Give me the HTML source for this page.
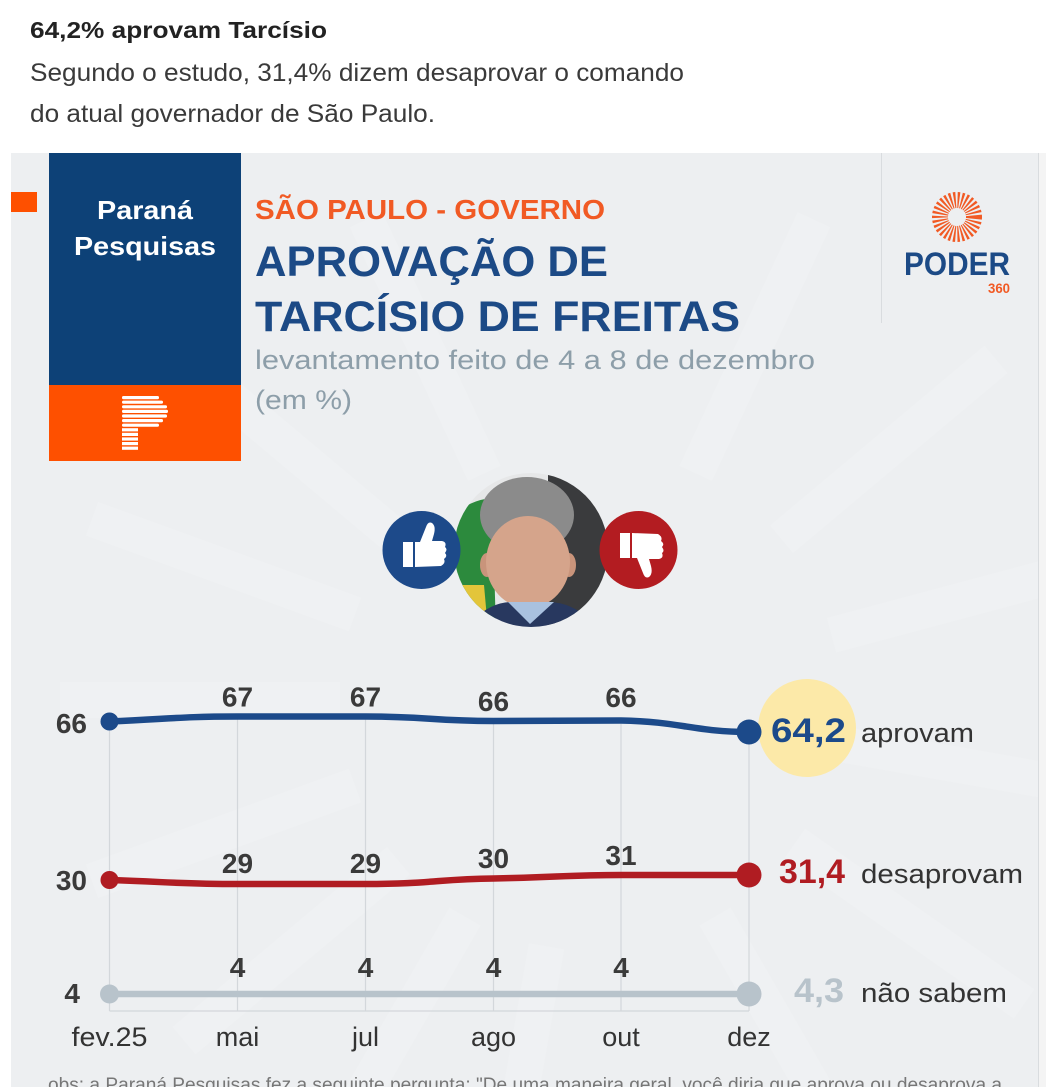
<!DOCTYPE html>
<html><head><meta charset="utf-8">
<style>
html,body{margin:0;padding:0;background:#fff;width:1046px;height:1087px;overflow:hidden;}
svg{display:block;}
text{font-family:"Liberation Sans",sans-serif;}
</style></head><body>
<svg width="1046" height="1087" viewBox="0 0 1046 1087" xmlns="http://www.w3.org/2000/svg">
<defs>
<clipPath id="pc"><circle cx="531" cy="550" r="77"/></clipPath>
<clipPath id="panel"><rect x="11" y="153" width="1027" height="934"/></clipPath>
</defs>
<rect width="1046" height="1087" fill="#fff"/>
<!-- header -->
<text x="30" y="38" font-size="23" font-weight="bold" fill="#222" textLength="297" lengthAdjust="spacingAndGlyphs">64,2% aprovam Tarcísio</text>
<text x="30" y="81" font-size="25" fill="#3a3a3a" textLength="654" lengthAdjust="spacingAndGlyphs">Segundo o estudo, 31,4% dizem desaprovar o comando</text>
<text x="30" y="122" font-size="25" fill="#3a3a3a" textLength="405" lengthAdjust="spacingAndGlyphs">do atual governador de São Paulo.</text>

<!-- panel -->
<rect x="11" y="153" width="1027" height="934" fill="#edeff1"/>
<rect x="1038" y="153" width="8" height="934" fill="#f4f4f4"/>
<line x1="1038.5" y1="153" x2="1038.5" y2="1087" stroke="#d9dcdf" stroke-width="1"/>

<!-- faint rays watermark -->
<g clip-path="url(#panel)" fill="#ffffff" opacity="0.14">
<g transform="translate(590,700)">
<rect x="250" y="-18" width="280" height="36" transform="rotate(200)"/>
<rect x="250" y="-18" width="280" height="36" transform="rotate(180)"/>
<rect x="250" y="-18" width="280" height="36" transform="rotate(220)"/>
<rect x="250" y="-18" width="280" height="36" transform="rotate(245)"/>
<rect x="250" y="-18" width="280" height="36" transform="rotate(160)"/>
<rect x="250" y="-18" width="280" height="36" transform="rotate(140)"/>
<rect x="250" y="-18" width="280" height="36" transform="rotate(120)"/>
<rect x="250" y="-18" width="280" height="36" transform="rotate(100)"/>
<rect x="250" y="-18" width="280" height="36" transform="rotate(60)"/>
<rect x="250" y="-18" width="280" height="36" transform="rotate(35)"/>
<rect x="250" y="-18" width="280" height="36" transform="rotate(10)"/>
<rect x="250" y="-18" width="280" height="36" transform="rotate(-15)"/>
<rect x="250" y="-18" width="280" height="36" transform="rotate(-40)"/>
<rect x="250" y="-18" width="280" height="36" transform="rotate(-65)"/>
</g>
</g>

<!-- orange small square -->
<rect x="11" y="192" width="26" height="20" fill="#fe5000"/>

<!-- Parana box -->
<rect x="49" y="153" width="192" height="232" fill="#0d4177"/>
<rect x="49" y="385" width="192" height="76" fill="#fe5000"/>
<text x="145" y="219" font-size="26" font-weight="bold" fill="#fff" text-anchor="middle" textLength="96" lengthAdjust="spacingAndGlyphs">Paraná</text>
<text x="145" y="255" font-size="26" font-weight="bold" fill="#fff" text-anchor="middle" textLength="142" lengthAdjust="spacingAndGlyphs">Pesquisas</text>
<g fill="#fff">
<rect x="122" y="396" width="37" height="3.2" rx="1.5"/>
<rect x="122" y="400.6" width="41" height="3.2" rx="1.5"/>
<rect x="122" y="405.2" width="45" height="3.2" rx="1.5"/>
<rect x="122" y="409.8" width="46" height="3.2" rx="1.5"/>
<rect x="122" y="414.4" width="45" height="3.2" rx="1.5"/>
<rect x="122" y="419" width="41" height="3.2" rx="1.5"/>
<rect x="122" y="423.6" width="37" height="3.2" rx="1.5"/>
<rect x="122" y="428.2" width="16" height="3.2"/>
<rect x="122" y="432.8" width="16" height="3.2"/>
<rect x="122" y="437.4" width="16" height="3.2"/>
<rect x="122" y="442" width="16" height="3.2"/>
<rect x="122" y="446.6" width="16" height="3.2"/>
</g>

<!-- titles -->
<text x="255" y="219" font-size="28" font-weight="bold" fill="#f15a24" textLength="350" lengthAdjust="spacingAndGlyphs">SÃO PAULO - GOVERNO</text>
<text x="255" y="276" font-size="43" font-weight="bold" fill="#1c4a86" textLength="353" lengthAdjust="spacingAndGlyphs">APROVAÇÃO DE</text>
<text x="255" y="331" font-size="43" font-weight="bold" fill="#1c4a86" textLength="485" lengthAdjust="spacingAndGlyphs">TARCÍSIO DE FREITAS</text>
<text x="255" y="369" font-size="27" fill="#8d9ea9" textLength="560" lengthAdjust="spacingAndGlyphs">levantamento feito de 4 a 8 de dezembro</text>
<text x="255" y="409" font-size="27" fill="#8d9ea9" textLength="97" lengthAdjust="spacingAndGlyphs">(em %)</text>

<!-- Poder logo -->
<line x1="881.5" y1="153" x2="881.5" y2="323" stroke="#d9dcdf" stroke-width="1"/>
<circle cx="957" cy="217" r="17" fill="none" stroke="#f15a24" stroke-width="16" stroke-dasharray="1.8 1.7"/>
<text x="904" y="275" font-size="32" font-weight="bold" fill="#1c4a86" textLength="106" lengthAdjust="spacingAndGlyphs">PODER</text>
<text x="988" y="293" font-size="14" font-weight="bold" fill="#f15a24" textLength="22" lengthAdjust="spacingAndGlyphs">360</text>

<!-- photo -->
<g clip-path="url(#pc)">
<rect x="450" y="470" width="165" height="160" fill="#e6e7e8"/>
<rect x="548" y="470" width="70" height="160" fill="#3a3b3d"/>
<path d="M454,515 Q470,500 492,498 L496,630 L456,630 Z" fill="#2c8a3d"/>
<path d="M456,585 L484,585 L488,630 L458,630 Z" fill="#e3c53a"/>
<ellipse cx="527" cy="515" rx="47" ry="38" fill="#8b8b8b"/>
<ellipse cx="487" cy="565" rx="7" ry="12" fill="#c9947b"/>
<ellipse cx="569" cy="565" rx="7" ry="12" fill="#c9947b"/>
<ellipse cx="528" cy="562" rx="42" ry="46" fill="#d5a48b"/>
<path d="M462,632 Q485,603 510,602 L550,602 Q578,603 602,632 Z" fill="#28385f"/>
<path d="M508,602 L530,624 L554,602 Z" fill="#a9c1df"/>
</g>

<!-- thumbs -->
<circle cx="421.5" cy="550" r="39" fill="#1d4a8a"/>
<circle cx="638.5" cy="550" r="39" fill="#b31c21"/>
<g fill="#fff">
<rect x="403" y="542" width="10" height="25"/>
<path d="M415,542 L420,542 L426,527 Q428,521 432,523 Q436,526 434,534 L432,541 L442,541 Q447,542 445,547 Q448,549 445,553 Q448,556 444,559 Q446,563 441,566 L415,567 Z"/>
</g>
<g fill="#fff" transform="translate(217,1100) scale(1,-1)">
<rect x="403" y="542" width="10" height="25"/>
<path d="M415,542 L420,542 L426,527 Q428,521 432,523 Q436,526 434,534 L432,541 L442,541 Q447,542 445,547 Q448,549 445,553 Q448,556 444,559 Q446,563 441,566 L415,567 Z"/>
</g>

<!-- chart grid -->
<g stroke="#d3d7db" stroke-width="1.2">
<line x1="109.5" y1="722" x2="109.5" y2="1011"/>
<line x1="237.5" y1="717" x2="237.5" y2="1011"/>
<line x1="365.5" y1="717" x2="365.5" y2="1011"/>
<line x1="493.5" y1="721" x2="493.5" y2="1011"/>
<line x1="621" y1="721" x2="621" y2="1011"/>
<line x1="749" y1="732" x2="749" y2="1011"/>
<line x1="109.5" y1="1011" x2="749" y2="1011"/>
</g>

<!-- yellow highlight -->
<circle cx="807" cy="728" r="49" fill="#fce9a8"/>

<!-- series -->
<path d="M109.5,721.5 C170,719 180,716.5 237.5,716.5 L365.5,716.5 C430,716.5 430,721 493.5,721 L621,720.5 C680,721.5 695,732 749,732" fill="none" stroke="#1c4a8a" stroke-width="6.5" stroke-linecap="round"/>
<path d="M109.5,880 C170,882 180,884 237.5,884 L365.5,884 C430,884 440,879 493.5,878.5 C560,877 570,875 621,875 L749,875" fill="none" stroke="#b01c22" stroke-width="6.5" stroke-linecap="round"/>
<path d="M109.5,994 L749,994" fill="none" stroke="#b8c3cb" stroke-width="6.5" stroke-linecap="round"/>
<circle cx="109.5" cy="721.5" r="9" fill="#1c4a8a"/>
<circle cx="749" cy="732" r="12.5" fill="#1c4a8a"/>
<circle cx="109.5" cy="880" r="9" fill="#b01c22"/>
<circle cx="749" cy="875" r="12.5" fill="#b01c22"/>
<circle cx="109.5" cy="994" r="9.5" fill="#b8c3cb"/>
<circle cx="749" cy="994" r="12.5" fill="#b8c3cb"/>

<!-- point labels -->
<g font-size="28" font-weight="bold" fill="#3a3a3a" text-anchor="middle">
<text x="87" y="733" text-anchor="end">66</text>
<text x="237.5" y="706.5">67</text>
<text x="365.5" y="706.5">67</text>
<text x="493.5" y="711">66</text>
<text x="621" y="707">66</text>
<text x="87" y="890" text-anchor="end">30</text>
<text x="237.5" y="873">29</text>
<text x="365.5" y="873">29</text>
<text x="493.5" y="868">30</text>
<text x="621" y="865">31</text>
<text x="80" y="1003" text-anchor="end">4</text>
<text x="237.5" y="977">4</text>
<text x="365.5" y="977">4</text>
<text x="493.5" y="977">4</text>
<text x="621" y="977">4</text>
</g>

<!-- x labels -->
<g font-size="27" fill="#333" text-anchor="middle">
<text x="109.5" y="1046" textLength="76" lengthAdjust="spacingAndGlyphs">fev.25</text>
<text x="237.5" y="1046">mai</text>
<text x="365.5" y="1046">jul</text>
<text x="493.5" y="1046">ago</text>
<text x="621" y="1046">out</text>
<text x="749" y="1046">dez</text>
</g>

<!-- end labels -->
<text x="771" y="742" font-size="34" font-weight="bold" fill="#1c4a8a" textLength="75" lengthAdjust="spacingAndGlyphs">64,2</text>
<text x="861" y="742" font-size="27" fill="#333" textLength="113" lengthAdjust="spacingAndGlyphs">aprovam</text>
<text x="779" y="883" font-size="34" font-weight="bold" fill="#b01c22" textLength="66" lengthAdjust="spacingAndGlyphs">31,4</text>
<text x="861" y="883" font-size="27" fill="#333" textLength="162" lengthAdjust="spacingAndGlyphs">desaprovam</text>
<text x="794" y="1002" font-size="34" font-weight="bold" fill="#b8c3cb" textLength="50" lengthAdjust="spacingAndGlyphs">4,3</text>
<text x="861" y="1002" font-size="27" fill="#333" textLength="146" lengthAdjust="spacingAndGlyphs">não sabem</text>

<!-- footnote -->
<text x="48" y="1091" font-size="19" fill="#777" textLength="954" lengthAdjust="spacingAndGlyphs">obs: a Paraná Pesquisas fez a seguinte pergunta: "De uma maneira geral, você diria que aprova ou desaprova a</text>
</svg>
</body></html>
